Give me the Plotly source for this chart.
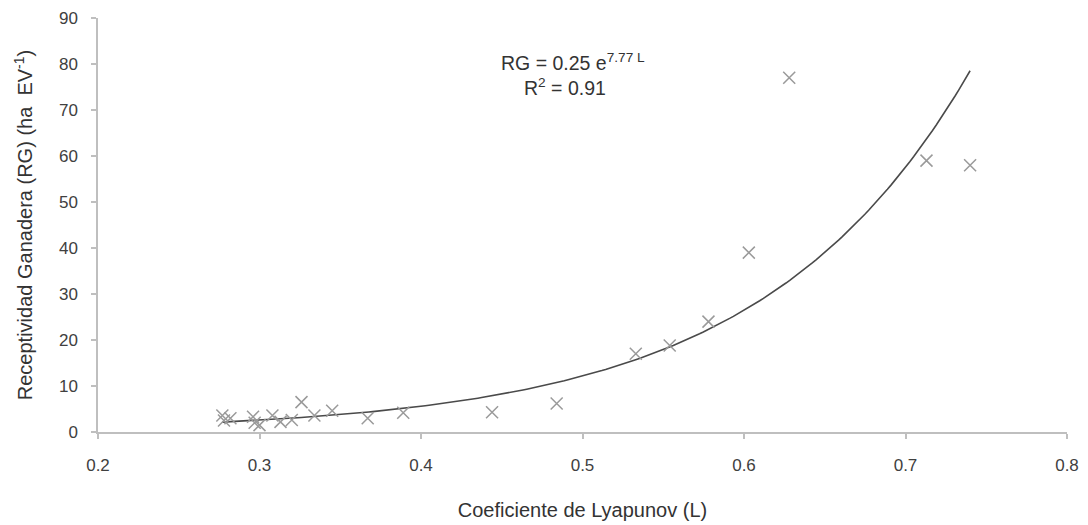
import numpy as np
import plotly.graph_objects as go

# Observed data (Coeficiente de Lyapunov L, Receptividad Ganadera RG)
lyapunov = [0.277, 0.278, 0.282, 0.296, 0.297, 0.300, 0.308, 0.313, 0.320,
            0.326, 0.334, 0.345, 0.367, 0.389, 0.444, 0.484, 0.533, 0.554,
            0.578, 0.603, 0.628, 0.713, 0.740]
rg = [3.6, 2.5, 3.0, 3.3, 2.0, 1.5, 3.6, 2.2, 2.6,
      6.5, 3.6, 4.6, 3.0, 4.2, 4.3, 6.2, 17.0, 18.8,
      24.0, 39.0, 77.0, 59.0, 58.0]

# Exponential trend line coefficients shown on the chart
fit_a = 0.25
fit_b = 7.77
r2 = 0.91

x_ticks = [0.2, 0.3, 0.4, 0.5, 0.6, 0.7, 0.8]
y_ticks = [0, 10, 20, 30, 40, 50, 60, 70, 80, 90]

xs = np.linspace(min(lyapunov), max(lyapunov), 200)
ys = fit_a * np.exp(fit_b * xs)

fig = go.Figure()
fig.add_trace(go.Scatter(
    x=xs, y=ys, mode="lines",
    line=dict(color="#4a4a4a", width=1.6),
    hoverinfo="skip", showlegend=False))
fig.add_trace(go.Scatter(
    x=lyapunov, y=rg, mode="markers",
    marker=dict(symbol="x-thin", size=12,
                line=dict(color="#9a9a9a", width=1.5)),
    showlegend=False))

font_family = "Liberation Sans, Arial, sans-serif"

fig.add_annotation(
    x=0.494, y=80.4, xref="x", yref="y",
    text=f"RG = {fit_a} e<sup>{fit_b} L</sup>",
    showarrow=False, font=dict(size=19.5, color="#333333", family=font_family),
    xanchor="center", yanchor="middle")
fig.add_annotation(
    x=0.489, y=75.1, xref="x", yref="y",
    text=f"R<sup>2</sup> = {r2}",
    showarrow=False, font=dict(size=19.5, color="#333333", family=font_family),
    xanchor="center", yanchor="middle")

axis_common = dict(
    showgrid=False, zeroline=False, showline=True,
    linecolor="#bfbfbf", linewidth=1.5,
    ticks="outside", tickcolor="#bfbfbf", ticklen=5, tickwidth=1.5,
    tickfont=dict(size=17, color="#404040", family=font_family),
    automargin=False,
)

fig.update_xaxes(
    range=[0.2, 0.8], tickvals=x_ticks,
    ticktext=[f"{v:g}" for v in x_ticks],
    ticklabelstandoff=12,
    title=dict(text="Coeficiente de Lyapunov (L)",
               font=dict(size=20, color="#333333", family=font_family),
               standoff=29),
    **axis_common)
fig.update_yaxes(
    range=[0, 90], tickvals=y_ticks,
    ticklabelstandoff=10,
    title=dict(text="Receptividad Ganadera (RG) (ha  EV<sup>-1</sup>)",
               font=dict(size=20, color="#333333", family=font_family),
               standoff=21),
    **axis_common)

fig.update_layout(
    width=1088, height=525,
    margin=dict(l=98, r=21, t=18, b=93),
    paper_bgcolor="white", plot_bgcolor="white",
    font=dict(family=font_family),
)

fig.write_html("out.html")
